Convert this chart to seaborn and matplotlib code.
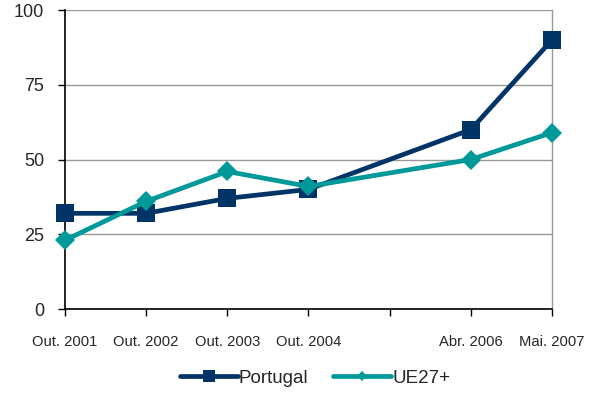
import matplotlib
matplotlib.use("Agg")
import matplotlib.pyplot as plt
import seaborn as sns
import pandas as pd
from matplotlib.lines import Line2D

# Survey waves (the 2005 slot is left unlabelled and has no data)
periods = ["Out. 2001", "Out. 2002", "Out. 2003", "Out. 2004", "", "Abr. 2006", "Mai. 2007"]
positions = [0, 1, 2, 3, 5, 6]
portugal = [32, 32, 37, 40, 60, 90]
ue27 = [23, 36, 46, 41, 50, 59]

df = pd.DataFrame({
    "pos": positions * 2,
    "valor": portugal + ue27,
    "serie": ["Portugal"] * len(portugal) + ["UE27+"] * len(ue27),
})

sns.set_style("white")
plt.rcParams["font.family"] = ["Liberation Sans", "DejaVu Sans"]

fig = plt.figure(figsize=(6.0, 3.94), dpi=100)
ax = fig.add_axes([0.1083, 0.2157, 0.8117, 0.7589])

navy, teal = "#003366", "#009999"
sns.lineplot(data=df[df.serie == "Portugal"], x="pos", y="valor", color=navy,
             marker="s", markersize=13, markeredgewidth=0, linewidth=3.4,
             ax=ax, legend=False, zorder=3, clip_on=False)
sns.lineplot(data=df[df.serie == "UE27+"], x="pos", y="valor", color=teal,
             marker="D", markersize=10.5, markeredgewidth=0, linewidth=3.4,
             ax=ax, legend=False, zorder=4, clip_on=False)

ax.set_xlim(0, 6)
ax.set_ylim(0, 100)
ax.set_yticks([0, 25, 50, 75, 100])
ax.set_xticks(range(len(periods)))
ax.set_xticklabels(periods, fontsize=10.6)
ax.tick_params(axis="y", labelsize=13, length=5, width=1, color="black", direction="out", pad=10, left=True)
ax.tick_params(axis="x", length=5, width=1, color="black", direction="out", pad=14, bottom=True)
ax.set_xlabel("")
ax.set_ylabel("")
ax.yaxis.grid(True, color="#999999", linewidth=1)
ax.set_axisbelow(True)

for side in ["left", "bottom"]:
    ax.spines[side].set_color("black")
    ax.spines[side].set_linewidth(1.2)
ax.spines["top"].set_visible(False)
ax.spines["right"].set_color("#999999")
ax.spines["right"].set_linewidth(1)
for sp in ax.spines.values():
    sp.set_zorder(2)

handles = [
    Line2D([], [], color=navy, linewidth=3.4, marker="s", markersize=8, markeredgewidth=0),
    Line2D([], [], color=teal, linewidth=3.4, marker="D", markersize=5.5, markeredgewidth=0),
]
fig.legend(handles, ["Portugal", "UE27+"], loc="center", bbox_to_anchor=(0.525, 0.04),
           ncol=2, frameon=False, fontsize=13.5, handlelength=3.1, handletextpad=0.05,
           columnspacing=1.3)

fig.savefig("out.png", dpi=100)
